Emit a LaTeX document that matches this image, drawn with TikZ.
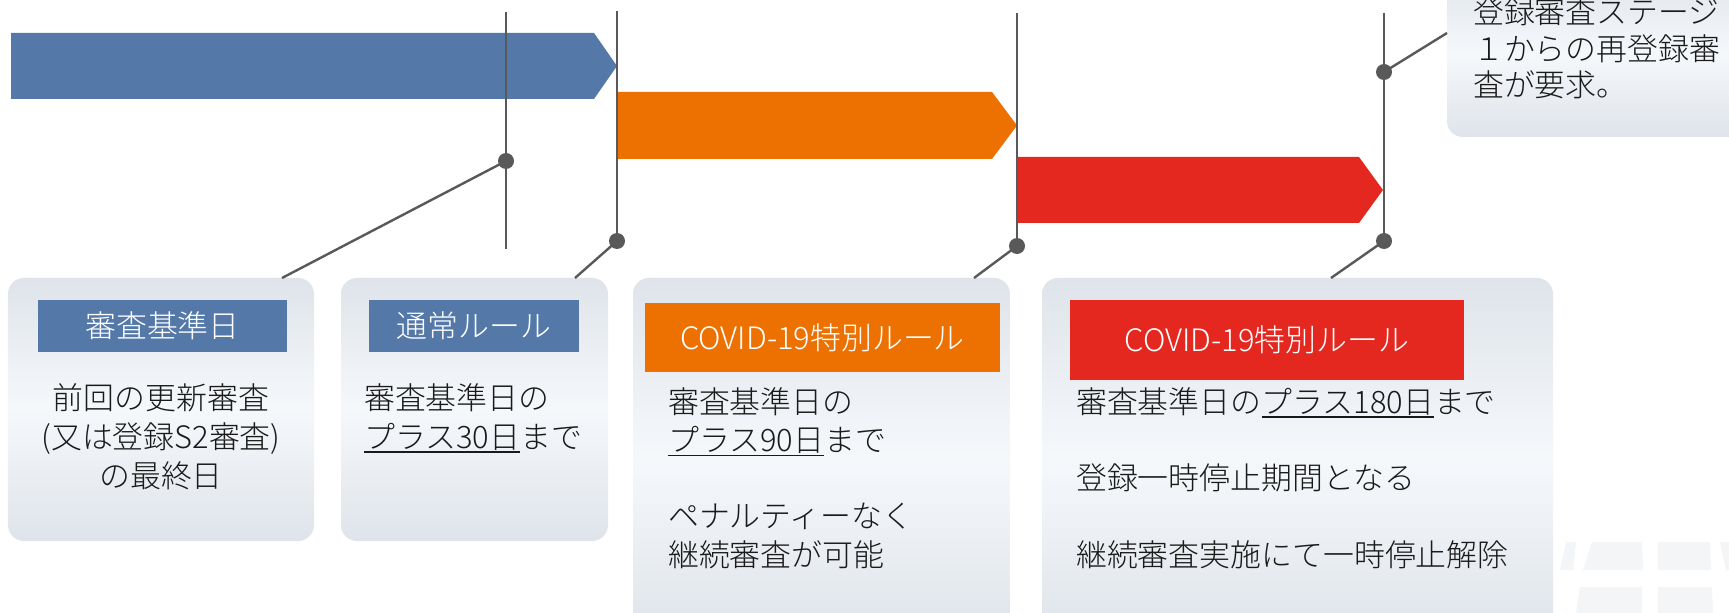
\documentclass[tikz,border=0pt]{standalone}
\usepackage{fontspec}
\setmainfont{Noto Sans CJK JP}[UprightFont=* Light]
\definecolor{cblue}{HTML}{5479A8}
\definecolor{corange}{HTML}{ED7100}
\definecolor{cred}{HTML}{E42820}
\definecolor{cgray}{HTML}{595959}
\definecolor{boxedge}{HTML}{DFE4EA}
\definecolor{boxmid}{HTML}{F5F8FB}
\definecolor{ctext}{HTML}{1A1A1A}
\definecolor{wmark}{HTML}{F4F5F7}
\newcommand\myul[1]{\leavevmode\vtop{\hbox{#1}\kern1pt\hrule height1.6pt}}
\tikzset{
  panel/.style={rounded corners=16bp, top color=boxedge, bottom color=boxedge, middle color=boxmid, draw=none, inner sep=0pt},
  header/.style={inner sep=0pt, text=white, font=\fontsize{31}{36}\selectfont},
  bodytext/.style={inner sep=0pt, text=ctext, font=\fontsize{31}{39}\selectfont},
  vline/.style={draw=cgray, line width=2.4bp},
  conn/.style={draw=cgray, line width=2.4bp},
  dotc/.style={fill=cgray},
}
\begin{document}
\begin{tikzpicture}[x=1bp,y=-1bp]
\useasboundingbox (0,0) rectangle (1729,613);
\fill[white] (0,0) rectangle (1729,613);
% faint watermark
\begin{scope}
\fill[wmark] (1566,542) -- (1576,542) -- (1573,570) -- (1560,570) -- cycle;
\fill[wmark] (1592,542) -- (1642,542) -- (1643,570) -- (1583,570) -- cycle;
\fill[wmark] (1658,542) -- (1710,542) -- (1711,570) -- (1658,570) -- cycle;
\fill[wmark] (1720,542) -- (1729,542) -- (1729,570) -- (1726,570) -- cycle;
\fill[wmark] (1580,587) -- (1642,587) -- (1642,613) -- (1576,613) -- cycle;
\fill[wmark] (1658,587) -- (1712,587) -- (1713,613) -- (1658,613) -- cycle;
\end{scope}
% arrows
\fill[cblue] (11,33) -- (594,33) -- (617,66) -- (594,99) -- (11,99) -- cycle;
\fill[corange] (617,92) -- (992,92) -- (1017,125.5) -- (992,159) -- (617,159) -- cycle;
\fill[cred] (1017,157) -- (1359,157) -- (1383,190) -- (1359,223) -- (1017,223) -- cycle;
% panels
\node[panel, minimum width=306bp, minimum height=263bp] (p1) at (161,409.5) {};
\node[panel, minimum width=267bp, minimum height=263bp] (p2) at (474.5,409.5) {};
\node[panel, minimum width=377bp, minimum height=362bp] (p3) at (821.5,459) {};
\node[panel, minimum width=511bp, minimum height=362bp] (p4) at (1297.5,459) {};
\node[panel, minimum width=353bp, minimum height=167bp] (p5) at (1623.5,53.5) {};
% headers
\node[header, fill=cblue, minimum width=249bp, minimum height=52bp] (h1) at (162.5,326) {審査基準日};
\node[header, fill=cblue, minimum width=210bp, minimum height=52bp] (h2) at (474,326) {通常ルール};
\node[header, fill=corange, minimum width=355bp, minimum height=69bp] (h3) at (822.5,337.5) {COVID-19特別ルール};
\node[header, fill=cred, minimum width=394bp, minimum height=80bp] (h4) at (1267,340) {COVID-19特別ルール};
% body texts
\node[bodytext, align=center] (t1) at (161,437) {前回の更新審査\\(又は登録S2審査)\\の最終日};
\node[bodytext, align=left, anchor=west] (t2) at (364,418) {審査基準日の\\\myul{プラス30日}まで};
\node[bodytext, align=left, anchor=west, font=\fontsize{31}{38.3}\selectfont] (t3) at (668,478) {審査基準日の\\\myul{プラス90日}まで\\\mbox{}\\ペナルティーなく\\継続審査が可能};
\node[bodytext, align=left, anchor=west, font=\fontsize{31}{38.3}\selectfont] (t4) at (1076,478) {審査基準日の\myul{プラス180日}まで\\\mbox{}\\登録一時停止期間となる\\\mbox{}\\継続審査実施にて一時停止解除};
\node[bodytext, align=left, anchor=west, font=\fontsize{31}{36.5}\selectfont] (t5) at (1473,48.5) {登録審査ステージ\\１からの再登録審\\査が要求。};
% timeline coordinates
\coordinate (l1t) at (506,12);  \coordinate (l1b) at (506,249); \coordinate (d1) at (506,161);
\coordinate (l2t) at (617,11);  \coordinate (d2) at (617,241);
\coordinate (l3t) at (1017,13); \coordinate (d3) at (1017,246);
\coordinate (l4t) at (1384,13); \coordinate (d4) at (1384,241); \coordinate (d5) at (1384,72);
\coordinate (e1) at (282,278);
\coordinate (e2) at (575,278);
\coordinate (e3) at (974,278);
\coordinate (e4) at (1331,278);
\coordinate (e5) at (1447,33);
% vertical lines
\draw[vline] (l1t) -- (l1b);
\draw[vline] (l2t) -- (d2);
\draw[vline] (l3t) -- (d3);
\draw[vline] (l4t) -- (d4);
% connectors
\draw[conn] (d1) -- (e1);
\draw[conn] (d2) -- (e2);
\draw[conn] (d3) -- (e3);
\draw[conn] (d4) -- (e4);
\draw[conn] (d5) -- (e5);
% dots
\foreach \d in {d1,d2,d3,d4,d5} \fill[dotc] (\d) circle (8bp);
\end{tikzpicture}
\end{document}
